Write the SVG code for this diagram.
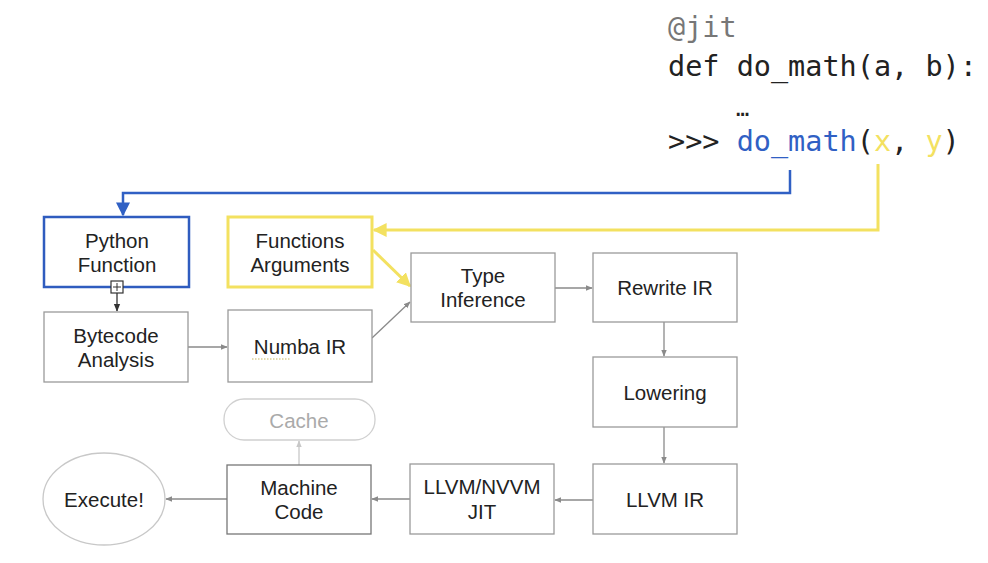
<svg xmlns="http://www.w3.org/2000/svg" width="988" height="563" viewBox="0 0 988 563">
<style>
.box{fill:#fff;stroke:#9a9a9a;stroke-width:1.3}
.t{font-family:"Liberation Sans",Arial,sans-serif;font-size:20.5px;fill:#222;text-anchor:middle}
.code{font-family:"DejaVu Sans Mono",monospace;font-size:28.5px;fill:#222}
.c{fill:none;stroke:#8a8a8a;stroke-width:1.3}
</style>
<defs>
<marker id="ag" viewBox="0 0 10 10" refX="9" refY="5" markerWidth="7" markerHeight="7" markerUnits="userSpaceOnUse" orient="auto"><path d="M0,1 L10,5 L0,9 z" fill="#8a8a8a"/></marker>
<marker id="ad" viewBox="0 0 10 10" refX="9" refY="5" markerWidth="8" markerHeight="8" markerUnits="userSpaceOnUse" orient="auto"><path d="M0,1 L10,5 L0,9 z" fill="#333"/></marker>
<marker id="al" viewBox="0 0 10 10" refX="9" refY="5" markerWidth="7" markerHeight="7" markerUnits="userSpaceOnUse" orient="auto"><path d="M0,1 L10,5 L0,9 z" fill="#c8c8c8"/></marker>
<marker id="ab" viewBox="0 0 10 10" refX="9" refY="5" markerWidth="14" markerHeight="14" markerUnits="userSpaceOnUse" orient="auto"><path d="M0,0 L10,5 L0,10 z" fill="#3060c4"/></marker>
<marker id="ay" viewBox="0 0 10 10" refX="9" refY="5" markerWidth="14" markerHeight="14" markerUnits="userSpaceOnUse" orient="auto"><path d="M0,0 L10,5 L0,10 z" fill="#f3e160"/></marker>
</defs>
<rect width="988" height="563" fill="#fff"/>
<g id="code">
<text class="code" x="668" y="37" style="fill:#777">@jit</text>
<text class="code" x="668" y="76">def do_math(a, b):</text>
<text class="code" x="736" y="116" style="font-size:22px">…</text>
<text class="code" x="668" y="151">&gt;&gt;&gt; <tspan style="fill:#3060c4">do_math</tspan>(<tspan style="fill:#f3e160">x</tspan>, <tspan style="fill:#f3e160">y</tspan>)</text>
</g>
<g id="connectors">
<path d="M790,170 V193 H123 V215" fill="none" stroke="#3060c4" stroke-width="2.5" marker-end="url(#ab)"/>
<path d="M878,164 V230 H374" fill="none" stroke="#f3e160" stroke-width="3" marker-end="url(#ay)"/>
<path d="M373,250 L410,286" fill="none" stroke="#f3e160" stroke-width="3" marker-end="url(#ay)"/>
<path d="M117,293 V311" fill="none" stroke="#333" stroke-width="1.3" marker-end="url(#ad)"/>
<path class="c" d="M188,347 H227" marker-end="url(#ag)"/>
<path class="c" d="M372,338 L410,302" marker-end="url(#ag)"/>
<path class="c" d="M555,288 H592" marker-end="url(#ag)"/>
<path class="c" d="M664,322 V356" marker-end="url(#ag)"/>
<path class="c" d="M664,427 V463" marker-end="url(#ag)"/>
<path class="c" d="M593,500 H555" marker-end="url(#ag)"/>
<path class="c" d="M410,499 H372" marker-end="url(#ag)"/>
<path class="c" d="M227,499 H166" marker-end="url(#ag)"/>
<path d="M299,465 V441" fill="none" stroke="#c8c8c8" stroke-width="1.3" marker-end="url(#al)"/>
</g>
<g id="python-function">
<rect x="44" y="217" width="145" height="70" fill="#fff" stroke="#2f5cbf" stroke-width="2.5"/>
<text class="t" x="117" y="248">Python</text>
<text class="t" x="117" y="272">Function</text>
<rect x="111" y="281" width="12" height="12" fill="#fff" stroke="#333" stroke-width="1.2"/>
<path d="M117,283 V291 M113,287 H121" stroke="#333" stroke-width="1"/>
</g>
<g id="functions-arguments">
<rect x="228" y="217" width="144" height="70" fill="#fff" stroke="#f3e160" stroke-width="3"/>
<text class="t" x="300" y="248">Functions</text>
<text class="t" x="300" y="272">Arguments</text>
</g>
<g id="bytecode-analysis">
<rect class="box" x="44" y="312" width="144" height="70"/>
<text class="t" x="116" y="343">Bytecode</text>
<text class="t" x="116" y="367">Analysis</text>
</g>
<g id="numba-ir">
<rect class="box" x="228" y="310" width="144" height="72"/>
<text class="t" x="300" y="354">Numba IR</text>
<path d="M252,359 H290" stroke="#c8b860" stroke-width="1.2" stroke-dasharray="1.5,1.5"/>
</g>
<g id="type-inference">
<rect class="box" x="411" y="253" width="144" height="69"/>
<text class="t" x="483" y="283">Type</text>
<text class="t" x="483" y="307">Inference</text>
</g>
<g id="rewrite-ir">
<rect class="box" x="593" y="253" width="144" height="69"/>
<text class="t" x="665" y="295">Rewrite IR</text>
</g>
<g id="lowering">
<rect class="box" x="593" y="357" width="144" height="70"/>
<text class="t" x="665" y="400">Lowering</text>
</g>
<g id="llvm-ir">
<rect class="box" x="593" y="464" width="144" height="70"/>
<text class="t" x="665" y="507">LLVM IR</text>
</g>
<g id="llvm-nvvm-jit">
<rect class="box" x="410" y="464" width="144" height="70"/>
<text class="t" x="482" y="494">LLVM/NVVM</text>
<text class="t" x="482" y="519">JIT</text>
</g>
<g id="machine-code">
<rect class="box" x="227" y="465" width="144" height="69" style="stroke:#777"/>
<text class="t" x="299" y="495">Machine</text>
<text class="t" x="299" y="519">Code</text>
</g>
<g id="cache">
<rect x="224" y="399" width="151" height="41" rx="20" fill="#fff" stroke="#d0d0d0" stroke-width="1.3"/>
<text class="t" x="299" y="428" style="fill:#aaa">Cache</text>
</g>
<g id="execute">
<ellipse cx="104" cy="499" rx="61" ry="46" fill="#fff" stroke="#c8c8c8" stroke-width="1.3"/>
<text class="t" x="104" y="507">Execute!</text>
</g>
</svg>
